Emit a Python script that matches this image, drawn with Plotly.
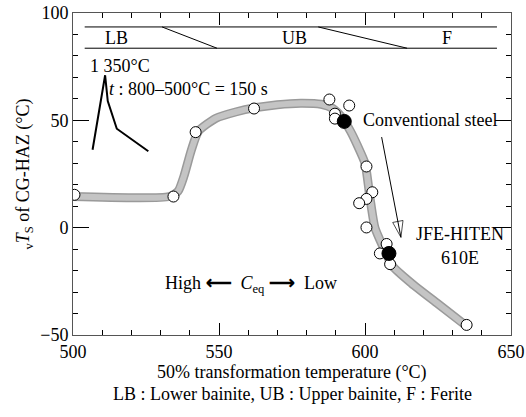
import plotly.graph_objects as go

FONT = "Liberation Serif"

# Smooth trend band (gray)
curve_x = [500, 533, 536, 538, 540.5, 543, 549, 556, 562, 570, 578, 585, 589, 592, 595, 597.5, 600, 601.7, 603.4, 606, 609.5, 616, 625, 634]
curve_y = [14.5, 14.5, 17, 24, 36, 45, 51, 54, 55.8, 57.3, 58, 57.5, 55.5, 51.5, 45, 38, 30, 14, 0, -8.4, -18, -26, -35.5, -45]

# Open-circle data points
open_x = [500.5, 534.4, 542, 562, 587.8, 594.6, 589.7, 589.7, 600.5, 602.5, 600.5, 598, 600.5, 607.4, 605.1, 608.6, 634.8]
open_y = [15.3, 14.5, 44.5, 55.5, 59.7, 56.9, 53.1, 50.8, 28.5, 16.5, 13.4, 11.4, 0.1, -7.6, -12.0, -17.0, -45.3]

# Filled points (Conventional steel, JFE-HITEN 610E)
fill_x = [592.9, 608.2]
fill_y = [49.5, -12.0]

# Thermal cycle inset
cycle_x = [506.7, 511, 511.9, 515, 525.8]
cycle_y = [36.3, 71, 59, 46.1, 35.6]

# Microstructure band
band_top, band_bot = 93.5, 83.6
band_x0, band_x1 = 504, 645.2
div1 = (530.5, 549.3)
div2 = (584, 614.4)
band_labels = ["LB", "UB", "F"]
band_label_x = [515, 576, 628]

# Arrow
arrow_x = [605.7, 612.3]
arrow_y = [42.2, -4.5]

fig = go.Figure()

fig.add_trace(go.Scatter(x=curve_x, y=curve_y, mode="lines",
                         line=dict(color="#9a9a9a", width=9, shape="spline", smoothing=0.6),
                         hoverinfo="skip", showlegend=False))
fig.add_trace(go.Scatter(x=curve_x, y=curve_y, mode="lines",
                         line=dict(color="#c4c4c4", width=6, shape="spline", smoothing=0.6),
                         hoverinfo="skip", showlegend=False))
fig.add_trace(go.Scatter(x=open_x, y=open_y, mode="markers",
                         marker=dict(symbol="circle", size=11, color="white",
                                     line=dict(color="black", width=1)),
                         showlegend=False))
fig.add_trace(go.Scatter(x=fill_x, y=fill_y, mode="markers",
                         marker=dict(symbol="circle", size=14, color="black",
                                     line=dict(color="black", width=1)),
                         showlegend=False))
fig.add_trace(go.Scatter(x=cycle_x, y=cycle_y, mode="lines",
                         line=dict(color="black", width=2), showlegend=False))
# Band lines
fig.add_trace(go.Scatter(x=[band_x0, band_x1, None, band_x0, band_x1, None,
                            div1[0], div1[1], None, div2[0], div2[1]],
                         y=[band_top, band_top, None, band_bot, band_bot, None,
                            band_top, band_bot, None, band_top, band_bot],
                         mode="lines", line=dict(color="black", width=1),
                         showlegend=False, hoverinfo="skip"))
# Arrow
fig.add_trace(go.Scatter(x=arrow_x, y=arrow_y, mode="lines+markers",
                         line=dict(color="black", width=1),
                         marker=dict(symbol=["circle", "arrow-open"], size=[1, 17],
                                     angleref="previous", color="black",
                                     line=dict(color="black", width=1)),
                         showlegend=False, hoverinfo="skip"))

tf = dict(family=FONT, size=18, color="black")
ann = []
for lab, lx in zip(band_labels, band_label_x):
    ann.append(dict(x=lx, y=(band_top + band_bot) / 2, text=lab, showarrow=False, font=tf))
ann += [
    dict(x=516, y=75.5, text="1 350°C", showarrow=False, font=tf),
    dict(x=511.5, y=64.8, text="<i>t</i> : 800–500°C = 150 s", showarrow=False, font=tf, xanchor="left"),
    dict(x=598.5, y=50, text="Conventional steel", showarrow=False, font=tf, xanchor="left"),
    dict(x=632.5, y=-2.8, text="JFE-HITEN", showarrow=False, font=tf),
    dict(x=632.5, y=-14, text="610E", showarrow=False, font=tf),
    dict(x=561, y=-26.5, text="High <b>⟵</b>  <i>C</i><sub>eq</sub> <b>⟶</b>  Low", showarrow=False, font=tf),
    dict(x=0.5, xref="paper", y=-0.118, yref="paper", text="50% transformation temperature (°C)",
         showarrow=False, font=tf, yanchor="middle"),
    dict(x=0.5, xref="paper", y=-0.183, yref="paper",
         text="LB : Lower bainite, UB : Upper bainite, F : Ferite",
         showarrow=False, font=tf, yanchor="middle"),
]

fig.update_layout(
    width=526, height=417,
    margin=dict(l=73, r=15, t=13, b=82),
    paper_bgcolor="white", plot_bgcolor="white",
    font=tf,
    annotations=ann,
    xaxis=dict(range=[500, 650], dtick=50, ticks="inside", ticklen=12, tickcolor="black",
               showgrid=False, zeroline=False, showline=True, linecolor="#555", linewidth=1,
               mirror="ticks", minor=dict(ticks="inside", ticklen=5, dtick=10, tickcolor="black"),
               tickfont=tf, automargin=False),
    yaxis=dict(range=[-50, 100], dtick=50, ticks="inside", ticklen=16, tickcolor="black",
               showgrid=False, zeroline=False, showline=True, linecolor="#555", linewidth=1,
               mirror="ticks", minor=dict(ticks="inside", ticklen=5, dtick=10, tickcolor="black"),
               tickfont=tf, tickvals=[-50, 0, 50, 100], ticktext=["−50", "0", "50", "100"],
               automargin=False,
               title=dict(text="<sub>v</sub><i>T</i><sub>S</sub> of CG-HAZ (°C)", font=tf, standoff=5)),
)

fig.write_html("out.html", config={"displayModeBar": False},
               post_script="document.body.style.margin='0';document.body.style.overflow='hidden';")
